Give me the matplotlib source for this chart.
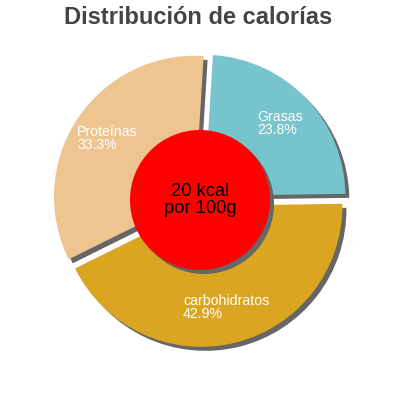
import numpy as np
import matplotlib
matplotlib.use("Agg")
import matplotlib.pyplot as plt
from matplotlib.patches import Circle

categories = ["Grasas", "carbohidratos", "Proteínas"]
values = [23.8, 42.9, 33.3]
pct_labels = ["23.8%", "42.9%", "33.3%"]
colors = ["#78C4CD", "#DAA520", "#EEC591"]
title = "Distribución de calorías"
center_text = "20 kcal\npor 100g"

plt.rcParams['font.family'] = ['Liberation Sans', 'DejaVu Sans']

fig = plt.figure(figsize=(4, 4), dpi=100)
ax = fig.add_axes([0, 0, 1, 1])

cx, cy = 200, 200
R = 141
expl = [6, 6, 6]
sh = (4, -4)
start = 86.5

# shadows
ax.pie(values, startangle=start, counterclock=False, explode=expl, radius=R,
       center=(cx + sh[0], cy + sh[1]), colors=["#666666"] * 3,
       wedgeprops=dict(linewidth=0), frame=True)
wedges, _ = ax.pie(values, startangle=start, counterclock=False, explode=expl, radius=R,
                   center=(cx, cy), colors=colors,
                   wedgeprops=dict(linewidth=0), frame=True)
ax.set_xlim(0, 400)
ax.set_ylim(0, 400)
ax.set_aspect('equal')
ax.axis('off')

for w, cat, p in zip(wedges, categories, pct_labels):
    th = np.deg2rad((w.theta1 + w.theta2) / 2)
    x = w.center[0] + 0.745 * w.r * np.cos(th)
    y = w.center[1] + 0.745 * w.r * np.sin(th)
    ax.text(x, y, cat + "\n" + p, color="white", fontsize=10.2, ha='center', va='center',
            multialignment='left', linespacing=0.9)

ax.add_patch(Circle((cx + sh[0], cy + sh[1]), 70, color="#666666", lw=0, zorder=5))
ax.add_patch(Circle((cx, cy), 70, color="#FF0000", lw=0, zorder=6))
ax.text(cx, cy, center_text, ha='center', va='center', fontsize=13.2, color='black',
        linespacing=1.0, zorder=7)

fig.text(0.495, 1 - 24 / 400, title, ha='center', va='baseline', fontsize=17,
         fontweight='bold', color='#444444')

fig.savefig("out.png", dpi=100)
